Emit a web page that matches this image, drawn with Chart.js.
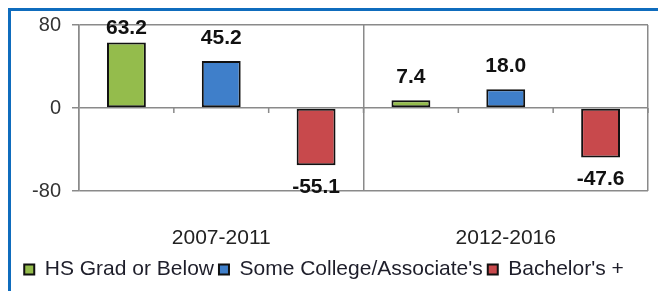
<!DOCTYPE html>
<html>
<head>
<meta charset="utf-8">
<script src="https://cdn.jsdelivr.net/npm/chart.js@4.4.0/dist/chart.umd.min.js"></script>
<style>
  html, body { margin: 0; padding: 0; background: #fff; }
  #wrap { position: relative; width: 658px; height: 291px; overflow: hidden; }
  #frame {
    position: absolute; left: 8px; top: 8px; width: 700px; height: 400px;
    border-top: 3px solid #0f6cbd; border-left: 3px solid #0f6cbd;
  }
  canvas { position: absolute; left: 0; top: 0; }
</style>
</head>
<body>
<div id="wrap">
  <div id="frame"></div>
  <canvas id="chart" width="658" height="291"></canvas>
</div>
<script>
const periods     = ["2007-2011", "2012-2016"];
const seriesNames = ["HS Grad or Below", "Some College/Associate's", "Bachelor's +"];
const hsGrad      = [63.2, 7.4];
const someCollege = [45.2, 18.0];
const bachelors   = [-55.1, -47.6];
const yTicks      = [-80, 0, 80];

const FONT = "'Liberation Sans', Arial, sans-serif";
const GRID = "#8a8a8a";

// value labels above (or below) each bar
const valueLabels = {
  id: "valueLabels",
  afterDatasetsDraw(chart) {
    const ctx = chart.ctx;
    const area = chart.chartArea;
    ctx.save();
    ctx.font = "bold 21px " + FONT;
    ctx.fillStyle = "#111";
    ctx.textAlign = "center";
    ctx.textBaseline = "middle";
    chart.data.datasets.forEach((ds, di) => {
      chart.getDatasetMeta(di).data.forEach((bar, i) => {
        const v = ds.data[i];
        let y = v >= 0 ? Math.max(bar.y - 23, area.top + 3) : bar.y + 22;
        ctx.fillText(v.toFixed(1), bar.x, y);
      });
    });
    ctx.restore();
  }
};

// small tick marks on the zero line between bar slots
const zeroTicks = {
  id: "zeroTicks",
  afterDatasetsDraw(chart) {
    const x = chart.scales.x, y = chart.scales.y;
    const y0 = y.getPixelForValue(0);
    const catW = x.width / periods.length;
    const ctx = chart.ctx;
    ctx.save();
    ctx.strokeStyle = GRID;
    ctx.lineWidth = 1.5;
    ctx.beginPath();
    periods.forEach((p, i) => {
      for (let k = 1; k <= seriesNames.length; k++) {
        const px = x.left + (i + k / seriesNames.length) * catW;
        ctx.moveTo(px, y0);
        ctx.lineTo(px, y0 + 5);
      }
    });
    ctx.stroke();
    ctx.restore();
  }
};

new Chart(document.getElementById("chart"), {
  type: "bar",
  data: {
    labels: periods,
    datasets: [
      { label: seriesNames[0], data: hsGrad,      backgroundColor: "#94bc4c" },
      { label: seriesNames[1], data: someCollege, backgroundColor: "#3f7fca" },
      { label: seriesNames[2], data: bachelors,   backgroundColor: "#c8494c" }
    ].map(d => ({ ...d, borderColor: "#111", borderWidth: 2, borderSkipped: false,
                  categoryPercentage: 1, barPercentage: 0.41 }))
  },
  options: {
    responsive: false,
    animation: false,
    devicePixelRatio: 1,
    layout: { padding: { left: 0, right: 10, top: 25, bottom: 1 } },
    plugins: {
      tooltip: { enabled: false },
      legend: {
        position: "bottom",
        labels: {
          font: { family: FONT, size: 21 },
          color: "#1e1e2a",
          boxWidth: 10,
          boxHeight: 10,
          padding: 5
        }
      }
    },
    scales: {
      x: {
        afterFit: s => { s.height = 63; },
        border: { display: false },
        grid: {
          offset: true,
          drawTicks: false,
          color: c => c.index === periods.length ? "rgba(0,0,0,0)" : GRID,
          lineWidth: 1.5
        },
        ticks: { font: { family: FONT, size: 21 }, color: "#222", padding: 35 }
      },
      y: {
        min: -80,
        max: 80,
        afterFit: s => { s.width = 79; },
        afterBuildTicks: s => { s.ticks = yTicks.map(v => ({ value: v })); },
        border: { color: GRID, width: 1.5 },
        grid: { color: GRID, lineWidth: 1.5, tickLength: 7 },
        ticks: { font: { family: FONT, size: 20 }, color: "#333", padding: 11 }
      }
    }
  },
  plugins: [zeroTicks, valueLabels]
});
</script>
</body>
</html>
